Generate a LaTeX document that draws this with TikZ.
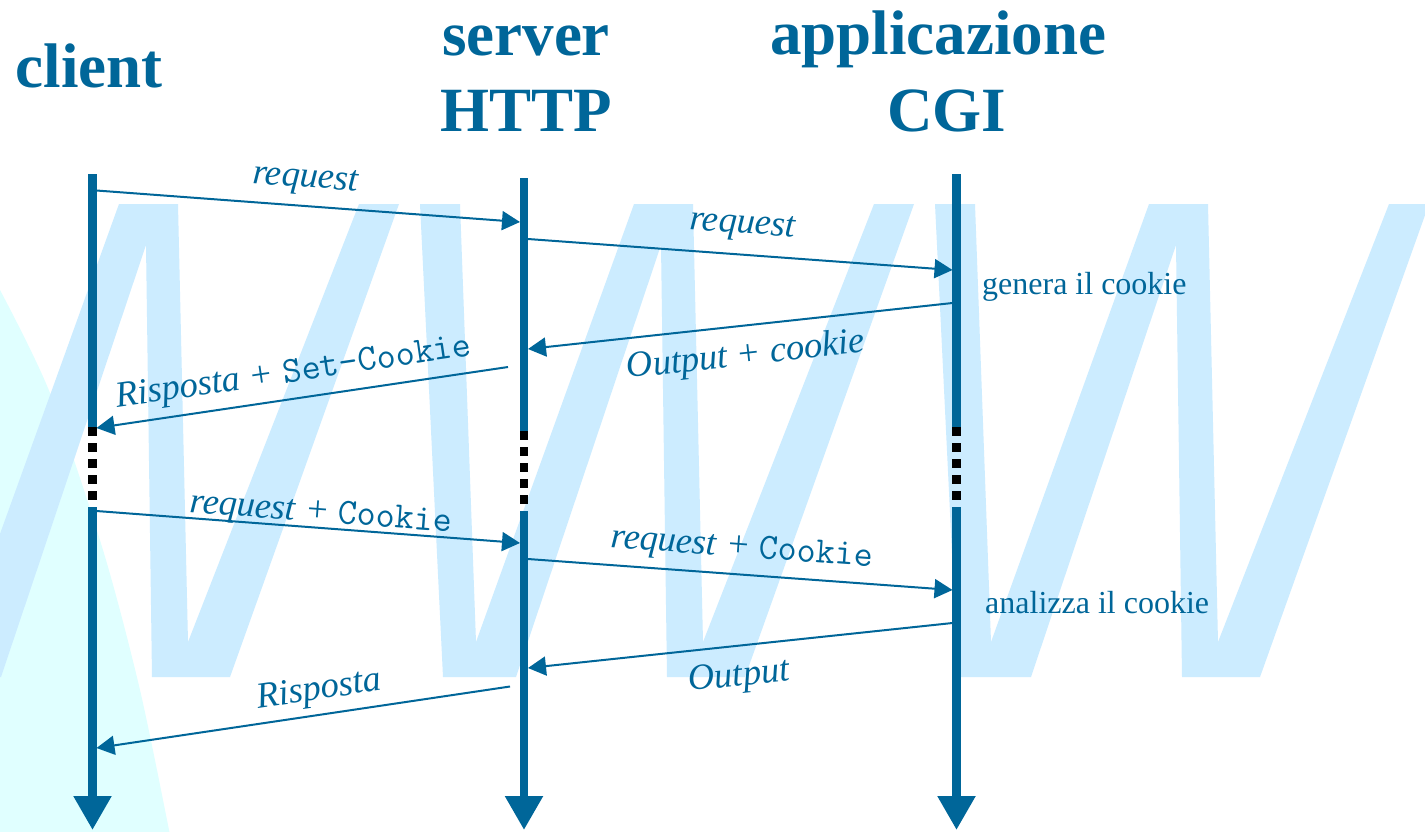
\documentclass[tikz,border=0pt]{standalone}
\usepackage{fontspec}
\setmainfont{Liberation Serif}
\usetikzlibrary{arrows.meta}

\definecolor{lineblue}{RGB}{0,102,153}
\definecolor{wmarkblue}{RGB}{204,236,255}
\definecolor{palecyan}{RGB}{224,255,255}

% one slanted "W" of the background lettering, shifted horizontally by #1
\newcommand{\wglyph}[1]{%
  \fill[wmarkblue, xshift=#1pt]
    (0,204) -- (40,204) -- (56,642) -- (214,204) -- (273,204) -- (283,642)
    -- (454,204) -- (494,204) -- (325,677) -- (247,677) -- (241,245)
    -- (96,677) -- (23,677) -- cycle;}

% header names in monospace
\newcommand{\hdr}[1]{{\fontsize{37}{40}\selectfont\ttfamily\upshape #1}}

\tikzset{
  lifeline/.style={draw=lineblue, line width=8.3pt},
  pausedots/.style={draw=black, line width=8.3pt, dash pattern=on 8.5pt off 7.5pt},
  lifeend/.style={-{Triangle[length=34pt,width=36pt]}},
  msg/.style={draw=lineblue, line width=2pt, -{Triangle[length=18pt,width=19pt]}},
  title/.style={text=lineblue, font=\fontsize{63}{70}\selectfont\bfseries,
                inner sep=0pt, anchor=base},
  msglabel/.style={text=lineblue, font=\fontsize{36.5}{40}\selectfont\itshape,
                   inner sep=0pt, anchor=base},
  note/.style={text=lineblue, font=\fontsize{32}{36}\selectfont,
               inner sep=0pt, anchor=base west},
}

\begin{document}
\begin{tikzpicture}[x=1pt,y=-1pt]
\useasboundingbox (0,0) rectangle (1425,831);
\fill[white] (0,0) rectangle (1425,831);

% background: pale cyan lobe and the large WWW lettering
\begin{scope}
  \clip (0,0) rectangle (1425,831);
  \fill[palecyan] plot[smooth] coordinates {(0,290) (50,393) (103,550) (140,690) (170,835)}
        -- (0,835) -- cycle;
  \wglyph{-95}
  \wglyph{420}
  \wglyph{935}
\end{scope}

% column titles
\node[title] (tclient) at (89,87) {client};
\node[title] (tserver) at (526,55) {server};
\node[title] (thttp)   at (526.5,131) {HTTP};
\node[title] (tappl)   at (938,54) {applicazione};
\node[title] (tcgi)    at (946.5,131) {CGI};

% lifelines
\coordinate (cA) at (92.5,174);  \coordinate (cB) at (92.5,427);
\coordinate (cC) at (92.5,500);  \coordinate (cD) at (92.5,507);
\coordinate (cE) at (92.5,830);
\coordinate (sA) at (524,178);   \coordinate (sB) at (524,431);
\coordinate (sC) at (524,504);   \coordinate (sD) at (524,511);
\coordinate (sE) at (524,830);
\coordinate (gA) at (956.5,174); \coordinate (gB) at (956.5,427);
\coordinate (gC) at (956.5,500); \coordinate (gD) at (956.5,507);
\coordinate (gE) at (956.5,830);

\foreach \p in {c,s,g}{
  \draw[lifeline] (\p A) -- (\p B);
  \draw[pausedots] (\p B) -- (\p C);
  \draw[lifeline, lifeend] (\p D) -- (\p E);
}

% message end points
\coordinate (m1a) at (96.5,190.5); \coordinate (m1b) at (520,222);
\coordinate (m2a) at (528,239);    \coordinate (m2b) at (952.5,270);
\coordinate (m3a) at (952.5,303);  \coordinate (m3b) at (528,349);
\coordinate (m4a) at (508,367);    \coordinate (m4b) at (96.5,428);
\coordinate (m5a) at (96.5,511);   \coordinate (m5b) at (520,543);
\coordinate (m6a) at (528,559);    \coordinate (m6b) at (952.5,590);
\coordinate (m7a) at (952.5,623);  \coordinate (m7b) at (528,668);
\coordinate (m8a) at (510,686.5);  \coordinate (m8b) at (96.5,748);

\foreach \i in {1,...,8}{
  \draw[msg] (m\i a) -- (m\i b);
}

% message labels
\node[msglabel, rotate=-4.25] (l1) at (305,187) {request};
\node[msglabel, rotate=-4.2]  (l2) at (742,233) {request};
\node[msglabel, rotate=6.2]   (l3) at (747,365) {Output + cookie};
\node[msglabel, rotate=8.4]   (l4) at (295,381.5) {Risposta + \hdr{Set-Cookie}};
\node[msglabel, rotate=-4.3]  (l5) at (320.5,522) {request + \hdr{Cookie}};
\node[msglabel, rotate=-4.2]  (l6) at (741.5,557) {request + \hdr{Cookie}};
\node[msglabel, rotate=6.05]  (l7) at (740,685.5) {Output};
\node[msglabel, rotate=8.5]   (l8) at (320.5,699) {Risposta};

% notes beside the CGI lifeline
\node[note] (n1) at (982,294) {genera il cookie};
\node[note] (n2) at (985,613) {analizza il cookie};
\end{tikzpicture}
\end{document}
